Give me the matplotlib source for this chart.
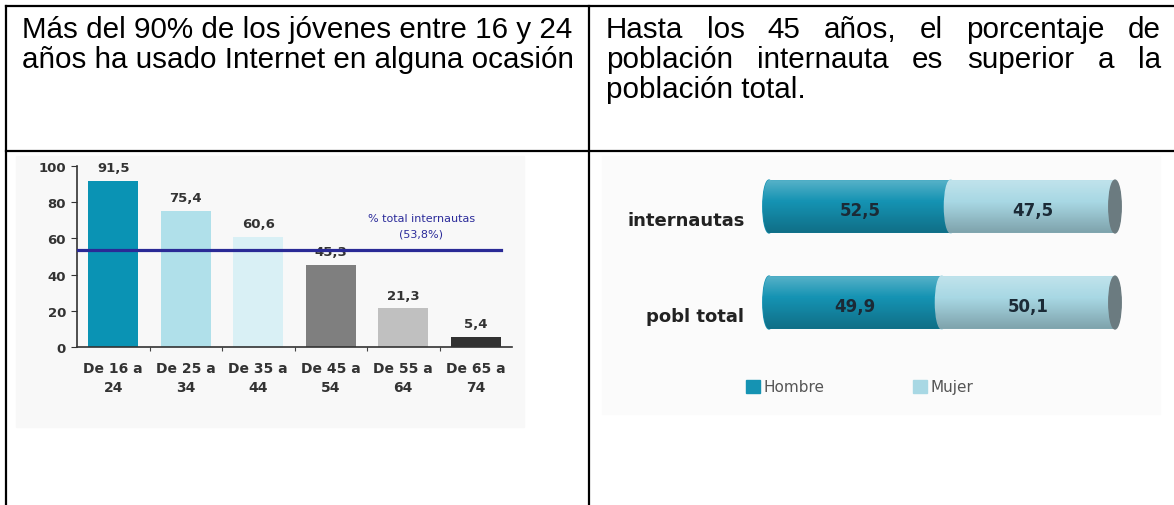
import numpy as np
import matplotlib
matplotlib.use("Agg")
import matplotlib.pyplot as plt
from matplotlib.lines import Line2D
from matplotlib.patches import Rectangle, Ellipse, Patch, PathPatch
from matplotlib.path import Path
from matplotlib.transforms import ScaledTranslation

plt.rcParams["font.family"] = ["DejaVu Sans"]

# header texts of the two table cells
left_header = ["Más del 90% de los jóvenes entre 16 y 24",
               "años ha usado Internet en alguna ocasión"]
right_header = ["Hasta los 45 años, el porcentaje de",
                "población internauta es superior a la",
                "población total."]

# left chart: % internet users by age group
age_groups = ["De 16 a\n24", "De 25 a\n34", "De 35 a\n44",
              "De 45 a\n54", "De 55 a\n64", "De 65 a\n74"]
pct_users = [91.5, 75.4, 60.6, 45.3, 21.3, 5.4]
total_pct = 53.8
bar_colors = ["#0a93b4", "#b0e0ea", "#d9f0f5", "#7f7f7f", "#c0c0c0", "#323232"]

# right chart: sex split
groups = ["internautas", "pobl total"]
series = ["Hombre", "Mujer"]
hombre = [52.5, 49.9]
mujer = [47.5, 50.1]
sex_colors = ["#1593b3", "#a8d8e4"]
cap_color = "#6b7b80"

W, H = 1174, 506
fig = plt.figure(figsize=(W / 100, H / 100), dpi=100)


def fx(x):
    return x / W


def fy(y):
    return 1 - y / H


def fmt(v):
    return f"{v:.1f}".replace(".", ",")


# table grid
for xs, ys in [([6, 1174], [7, 7]), ([6, 1174], [152, 152]),
               ([6, 6], [7, 506]), ([589, 589], [7, 506])]:
    fig.add_artist(Line2D([fx(x) for x in xs], [fy(y) for y in ys],
                          transform=fig.transFigure, color="black", lw=1.6))

# light backgrounds of the pasted chart images
fig.add_artist(Rectangle((fx(16), fy(428)), fx(524) - fx(16), fy(157) - fy(428),
                         transform=fig.transFigure, color="#f8f8f8", zorder=0))
fig.add_artist(Rectangle((fx(602), fy(415)), fx(1160) - fx(602), fy(157) - fy(415),
                         transform=fig.transFigure, color="#fbfbfb", zorder=0))

hfont = dict(family="Liberation Sans", fontsize=21.3, color="black", va="baseline")
for i, line in enumerate(left_header):
    fig.text(fx(22), fy(38 + 30 * i), line, **hfont)

renderer = fig.canvas.get_renderer()
for i, line in enumerate(right_header):
    y = fy(38 + 30 * i)
    if i == len(right_header) - 1:
        fig.text(fx(606), y, line, **hfont)
        continue
    words = line.split()
    texts = [fig.text(0, y, w, **hfont) for w in words]
    widths = [t.get_window_extent(renderer).width for t in texts]
    gap = (1161 - 606 - sum(widths)) / (len(words) - 1)
    x = 606
    for t, w in zip(texts, widths):
        t.set_x(fx(x))
        x += w + gap

# ---- left bar chart ----
ax1 = fig.add_axes([fx(77), fy(348), fx(512) - fx(77), fy(167) - fy(348)])
ax1.patch.set_alpha(0)
xpos = np.arange(len(age_groups))
ax1.bar(xpos, pct_users, width=0.69, color=bar_colors, zorder=2)
ax1.axhline(total_pct, xmin=0, xmax=0.975, color="#2a2a96", lw=2.3, zorder=5)
for x, v in zip(xpos, pct_users):
    ax1.annotate(fmt(v), (x, v), xytext=(0, 5), textcoords="offset points",
                 ha="center", va="bottom", fontsize=9.5, fontweight="bold",
                 color="#333333", zorder=3)
ax1.text(4.25, 67, f"% total internautas\n({fmt(total_pct)}%)", ha="center",
         va="center", color="#2b2b9a", fontsize=8, linespacing=1.6)
ax1.set_xlim(-0.5, len(age_groups) - 0.5)
ax1.set_ylim(0, 100)
ax1.set_yticks(range(0, 101, 20))
ax1.set_xticks(xpos[:-1] + 0.5)
ax1.set_xticklabels([])
ax1.set_xticks(xpos, minor=True)
ax1.set_xticklabels(age_groups, minor=True, fontsize=10, fontweight="bold",
                    color="#333333", linespacing=1.5)
ax1.tick_params(axis="x", which="major", length=3, color="#444444")
ax1.tick_params(axis="x", which="minor", length=0, pad=10)
ax1.tick_params(axis="y", length=4, color="#333333", pad=4)
for lab in ax1.get_yticklabels():
    lab.set_fontweight("bold")
    lab.set_fontsize(9.5)
    lab.set_color("#333333")
for s in ["top", "right"]:
    ax1.spines[s].set_visible(False)
for s in ["left", "bottom"]:
    ax1.spines[s].set_color("#333333")
    ax1.spines[s].set_linewidth(1.2)

# ---- right cylinder chart ----
ax2 = fig.add_axes([fx(750), fy(350), fx(1140) - fx(750), fy(160) - fy(350)])
ax2.patch.set_alpha(0)
ypos = np.arange(len(groups))[::-1]
bh = 0.55
ew = 3.6
b1 = ax2.barh(ypos, hombre, height=bh, color=sex_colors[0], zorder=2)
b2 = ax2.barh(ypos, mujer, left=hombre, height=bh, color=sex_colors[1], zorder=3)

grad = np.zeros((60, 1, 4))
t = np.linspace(0, 1, 60)
grad[:, 0, :3] = np.where(t[:, None] < 0.4, 1.0, 0.0)
grad[:, 0, 3] = np.where(t < 0.4, 0.28 * (1 - t / 0.4), 0.25 * (t - 0.4) / 0.6)

for y, h, m in zip(ypos, hombre, mujer):
    e1 = Ellipse((0, y), ew, bh, color=sex_colors[0], zorder=2)
    e2 = Ellipse((h, y), ew, bh, color=sex_colors[1], zorder=3)
    e3 = Ellipse((h + m, y), ew, bh, color=cap_color, zorder=4)
    for e in (e1, e2, e3):
        ax2.add_patch(e)
    rect = Rectangle((0, y - bh / 2), h + m, bh)
    p1 = rect.get_path().transformed(rect.get_patch_transform())
    p2 = e1.get_path().transformed(e1.get_patch_transform())
    clip = PathPatch(Path.make_compound_path(p1, p2), transform=ax2.transData)
    im = ax2.imshow(grad, extent=(-ew / 2, h + m, y - bh / 2, y + bh / 2),
                    aspect="auto", zorder=3.5, interpolation="bilinear")
    im.set_clip_path(clip)
    ax2.text(h / 2, y - 0.04, fmt(h), ha="center", va="center", fontsize=12,
             fontweight="bold", color="#1b2a36", zorder=6)
    ax2.text(h + m / 2, y - 0.04, fmt(m), ha="center", va="center", fontsize=12,
             fontweight="bold", color="#1b2a36", zorder=6)

ax2.set_xlim(-19 / 3.46, (1140 - 769) / 3.46)
ax2.set_ylim(-0.484, 1.495)
ax2.set_xticks([])
ax2.set_yticks(ypos)
ax2.set_yticklabels(groups, fontsize=13, fontweight="bold", color="#222222")
ax2.tick_params(axis="y", length=0, pad=4)
for lab in ax2.get_yticklabels():
    lab.set_transform(lab.get_transform() + ScaledTranslation(0, -0.11, fig.dpi_scale_trans))
for s in ax2.spines.values():
    s.set_visible(False)

handles = [Patch(color=c) for c in sex_colors]
leg = fig.legend(handles, series, loc="center left",
                 bbox_to_anchor=(fx(746), fy(388)), ncol=2, frameon=False,
                 borderpad=0, borderaxespad=0, handlelength=0.9, handleheight=0.9,
                 handletextpad=0.25, columnspacing=5.8, prop={"size": 11})
for txt in leg.get_texts():
    txt.set_color("#555555")

fig.savefig("out.png", dpi=100)
